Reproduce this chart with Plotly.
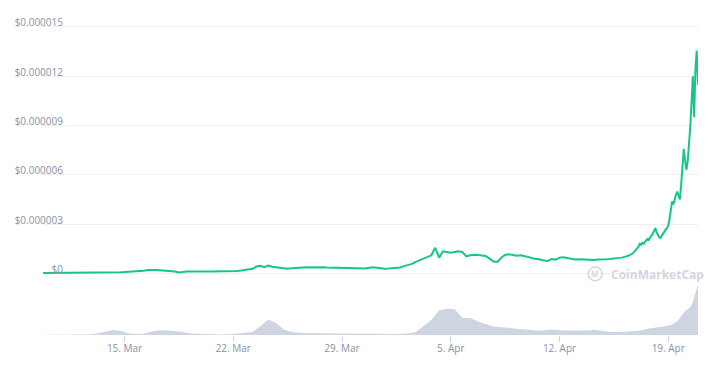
import pandas as pd
import plotly.graph_objects as go

# ---- price (micro-USD), 6-hourly then 2-hourly ----
price_times_a = pd.date_range("2021-03-09 18:00", "2021-04-16 18:00", freq="6h")
price_times_b = pd.date_range("2021-04-17 00:00", "2021-04-20 22:00", freq="2h")
price_micro = [
    0.03,
    0.03, 0.04, 0.03, 0.04,   # Mar 10
    0.04, 0.05, 0.04, 0.05,
    0.05, 0.04, 0.05, 0.05,
    0.05, 0.06, 0.07, 0.06,
    0.06, 0.07, 0.06, 0.07,
    0.08, 0.09, 0.10, 0.11,   # Mar 15
    0.12, 0.16, 0.20, 0.22,
    0.21, 0.19, 0.18, 0.16,
    0.13, 0.11, 0.06, 0.10,
    0.11, 0.12, 0.11, 0.12,
    0.12, 0.11, 0.12, 0.12,   # Mar 20
    0.12, 0.13, 0.13, 0.14,
    0.14, 0.15, 0.17, 0.20,
    0.22, 0.28, 0.42, 0.46,
    0.38, 0.48, 0.40, 0.36,
    0.32, 0.30, 0.28, 0.32,   # Mar 25
    0.34, 0.36, 0.38, 0.37,
    0.36, 0.38, 0.37, 0.38,
    0.36, 0.37, 0.35, 0.34,
    0.33, 0.32, 0.30, 0.29,
    0.28, 0.29, 0.30, 0.34,   # Mar 30
    0.38, 0.34, 0.30, 0.28,
    0.29, 0.30, 0.32, 0.36,   # Apr 1
    0.44, 0.50, 0.58, 0.70,
    0.80, 0.92, 1.02, 1.10,
    1.56, 0.96, 1.34, 1.28,
    1.26, 1.30, 1.34, 1.30,   # Apr 5
    1.04, 1.10, 1.14, 1.12,
    1.10, 1.06, 0.90, 0.72,
    0.70, 0.95, 1.12, 1.16,
    1.12, 1.08, 1.10, 1.06,
    1.00, 0.92, 0.90, 0.84,   # Apr 10
    0.78, 0.76, 0.88, 0.84,
    0.96, 0.98, 0.94, 0.88,
    0.84, 0.86, 0.84, 0.85,
    0.84, 0.82, 0.84, 0.83,
    0.86, 0.88, 0.90, 0.92,   # Apr 15
    0.96, 1.02, 1.10, 1.24,
    # 2-hourly from Apr 17
    1.50, 1.62, 1.80, 1.74, 1.86, 1.80, 1.92, 2.00, 2.10, 2.04, 2.20, 2.30,
    2.40, 2.56, 2.76, 2.50, 2.30, 2.20, 2.16, 2.30, 2.44, 2.56, 2.66, 2.76,
    2.90, 3.30, 3.90, 4.38, 4.20, 4.60, 4.80, 4.98, 4.70, 4.50, 5.40, 6.60,
    7.56, 6.90, 6.30, 6.78, 7.60, 8.88, 10.40, 12.00, 9.50, 12.40, 13.56, 11.46,
]
price_times = list(price_times_a) + list(price_times_b)
price_usd = [v * 1e-6 for v in price_micro]

# ---- volume (million USD) ----
vol_times_a = pd.date_range("2021-03-09 18:00", "2021-04-18 18:00", freq="12h")
vol_times_b = pd.date_range("2021-04-18 22:00", "2021-04-20 22:00", freq="4h")
volume_musd = [
    9,
    9, 9, 9, 9, 9, 15,
    45, 105, 150, 120, 54, 30,
    36, 105, 141, 135, 114, 90,
    48, 36, 30, 21, 15, 24,
    39, 54, 90, 270, 465, 360,
    165, 90, 66, 54, 51, 48,
    45, 42, 39, 39, 36, 33,
    30, 30, 30, 30, 45, 90,
    270, 450, 750, 795, 780, 510,
    510, 405, 330, 255, 231, 210,
    180, 159, 135, 129, 159, 159,
    135, 129, 120, 135, 159, 120,
    90, 81, 90, 111, 135, 195,
    225, 255,
    270, 285, 315, 360, 420, 510, 630, 720, 780, 840, 990, 1260, 1530,
]
vol_times = list(vol_times_a) + list(vol_times_b)

y_tickvals = [0, 3e-6, 6e-6, 9e-6, 12e-6, 15e-6]
y_ticktext = ["$0", "$0.000003", "$0.000006", "$0.000009", "$0.000012", "$0.000015"]
x_tickvals = ["2021-03-15", "2021-03-22", "2021-03-29", "2021-04-05", "2021-04-12", "2021-04-19"]
x_ticktext = ["15. Mar", "22. Mar", "29. Mar", "5. Apr", "12. Apr", "19. Apr"]

fig = go.Figure()
fig.add_trace(go.Scatter(
    x=vol_times, y=volume_musd, yaxis="y2", mode="lines",
    line=dict(width=0, color="rgb(205,212,226)"),
    fill="tozeroy", fillcolor="rgb(205,212,226)", hoverinfo="skip",
))
fig.add_trace(go.Scatter(
    x=price_times, y=price_usd, mode="lines",
    line=dict(color="#16c784", width=2),
))

# page has an 8px body margin; figure coordinates = window coordinates - 8
OFF = 8
W, H = 712 - OFF, 378 - OFF
L, T = 42 - OFF, 15 - OFF
R = W - (698 - OFF)
B = H - (335 - OFF)
pw, ph = W - L - R, H - T - B

def px(x):
    return (x - OFF - L) / pw

def py(y):
    return (H - B - (y - OFF)) / ph

fig.update_layout(
    width=W, height=H,
    margin=dict(l=L, r=R, t=T, b=B),
    paper_bgcolor="white", plot_bgcolor="white",
    showlegend=False,
    font=dict(family="Open Sans", size=10, color="#8a91a3"),
    xaxis=dict(
        range=["2021-03-09 18:00", "2021-04-20 22:00"],
        tickvals=x_tickvals, ticktext=x_ticktext,
        ticks="outside", ticklen=6, tickcolor="#ccd6eb", tickwidth=1,
        showgrid=False, zeroline=False, showline=False,
        ticklabelstandoff=-2,
        tickfont=dict(size=10, color="#8a91a3"),
    ),
    yaxis=dict(
        range=[-3.75e-6, 15.605e-6],
        tickvals=y_tickvals, ticktext=y_ticktext,
        showgrid=True, gridcolor="#efefef", gridwidth=1,
        zeroline=False, showline=False,
        ticklabelstandoff=-21, ticklabelshift=-4,
        tickfont=dict(size=10, color="#8a91a3"),
    ),
    yaxis2=dict(
        overlaying="y", range=[0, 9600], visible=False, showgrid=False,
    ),
    annotations=[
        dict(xref="paper", yref="paper", x=px(609), y=py(274), xanchor="left", yanchor="middle",
             text="<b>CoinMarketCap</b>", showarrow=False,
             font=dict(family="Open Sans", size=12, color="#d3d7e0")),
        dict(xref="paper", yref="paper", x=px(595), y=py(273.5), xanchor="center", yanchor="middle",
             text="<b>M</b>", showarrow=False,
             font=dict(family="Open Sans", size=8, color="#d3d7e0")),
    ],
    shapes=[
        dict(type="circle", xref="paper", yref="paper",
             x0=px(588), x1=px(602), y0=py(280.5), y1=py(266.5),
             line=dict(color="#d3d7e0", width=1.5)),
        dict(type="rect", xref="paper", yref="paper",
             x0=px(707), x1=px(709), y0=py(348), y1=py(370),
             line=dict(width=0), fillcolor="black"),
    ],
)

fig.write_html("out.html")
